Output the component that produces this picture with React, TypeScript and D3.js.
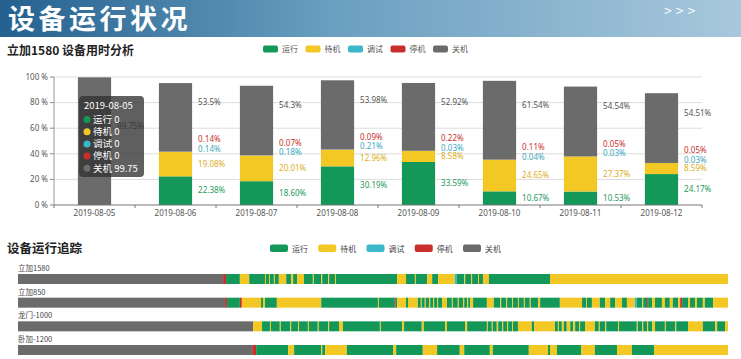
import React from 'react';
import * as d3 from 'd3';

const FONT = "'Noto Sans CJK SC', 'Noto Sans', sans-serif";
const NUM_FONT = "'Noto Sans', 'Noto Sans CJK SC', sans-serif";

const stateNames = ['运行', '待机', '调试', '停机', '关机'];
const stateColors = ['#13985a', '#f4c824', '#3db8cb', '#c92f2c', '#6b6b6b'];
const labelColors = ['#1c9a5c', '#dcae1a', '#3aa8bd', '#c9302c', '#555555'];

const dates = ['2019-08-05', '2019-08-06', '2019-08-07', '2019-08-08', '2019-08-09', '2019-08-10', '2019-08-11', '2019-08-12'];
const runVals = ['0', '22.38', '18.60', '30.19', '33.59', '10.67', '10.53', '24.17'];
const idleVals = ['0', '19.08', '20.01', '12.96', '8.58', '24.65', '27.37', '8.59'];
const debugVals = ['0', '0.14', '0.18', '0.21', '0.03', '0.04', '0.03', '0.03'];
const stopVals = ['0', '0.14', '0.07', '0.09', '0.22', '0.11', '0.05', '0.05'];
const offVals = ['99.75', '53.5', '54.3', '53.98', '52.92', '61.54', '54.54', '54.51'];
const yTicks = [0, 20, 40, 60, 80, 100];

const tooltipTitle = '2019-08-05';
const tooltipVals = ['0', '0', '0', '0', '99.75'];

const machineNames = ['立加1580', '立加850', '龙门-1000', '卧加-1200'];
// [start minute of the day, state index]
const track1: [number, number][] = [
  [0, 4], [416, 3], [422, 0], [450, 1], [469, 0], [501, 1], [503, 0], [509, 1], [511, 0], [519, 1], [521, 0],
  [529, 1], [544, 0], [554, 1], [558, 0], [566, 1], [580, 0], [598, 1], [600, 0], [615, 1], [617, 0], [629, 1],
  [631, 0], [643, 1], [645, 0], [769, 1], [787, 0], [805, 1], [807, 0], [830, 1], [840, 0], [852, 1], [886, 2],
  [890, 0], [905, 1], [907, 0], [919, 1], [921, 0], [933, 1], [935, 0], [943, 1], [955, 0], [1079, 1],
];
const track2: [number, number][] = [
  [0, 4], [420, 3], [424, 0], [450, 3], [454, 1], [493, 0], [497, 1], [501, 0], [525, 1], [615, 0], [730, 1],
  [732, 0], [763, 3], [765, 0], [769, 1], [787, 0], [791, 1], [811, 0], [817, 1], [819, 0], [825, 1], [827, 0],
  [834, 1], [836, 0], [842, 1], [844, 0], [850, 1], [852, 0], [860, 1], [870, 0], [880, 1], [882, 0], [892, 1],
  [894, 0], [903, 1], [905, 0], [911, 1], [913, 0], [917, 1], [923, 0], [951, 1], [965, 0], [978, 1], [980, 0],
  [990, 1], [992, 0], [1002, 1], [1004, 0], [1014, 1], [1016, 0], [1026, 1], [1028, 0], [1038, 1], [1040, 0],
  [1055, 1], [1059, 0], [1099, 1], [1144, 0], [1152, 1], [1154, 0], [1164, 1], [1180, 0], [1191, 1], [1201, 0],
  [1211, 1], [1225, 0], [1235, 1], [1251, 2], [1255, 0], [1266, 1], [1268, 0], [1276, 3], [1278, 0], [1286, 1],
  [1292, 0], [1306, 1], [1312, 0], [1322, 1], [1328, 0], [1339, 1], [1343, 3], [1347, 0], [1359, 1], [1363, 0],
  [1373, 1], [1377, 0], [1389, 1], [1393, 0], [1410, 1],
];
const track3: [number, number][] = [
  [0, 4], [477, 1], [495, 0], [511, 1], [513, 0], [531, 1], [533, 0], [552, 1], [554, 0], [568, 1], [570, 0],
  [588, 1], [590, 0], [608, 1], [610, 0], [629, 1], [631, 0], [651, 1], [659, 0], [734, 1], [736, 0], [779, 1],
  [783, 0], [819, 1], [823, 0], [866, 1], [870, 0], [907, 1], [911, 0], [951, 1], [953, 0], [961, 1], [963, 0],
  [971, 1], [974, 0], [982, 1], [984, 0], [992, 1], [994, 0], [1002, 1], [1004, 0], [1014, 1], [1042, 0],
  [1047, 1], [1089, 0], [1095, 1], [1097, 0], [1103, 1], [1107, 0], [1113, 1], [1120, 0], [1126, 1], [1130, 0],
  [1138, 1], [1140, 0], [1150, 1], [1170, 0], [1178, 1], [1180, 0], [1191, 1], [1193, 0], [1217, 1], [1219, 0],
  [1255, 1], [1257, 0], [1266, 1], [1268, 0], [1276, 1], [1278, 0], [1286, 1], [1292, 0], [1312, 1], [1314, 0],
  [1333, 1], [1335, 0], [1359, 1], [1389, 0], [1414, 1], [1418, 0], [1434, 1],
];
const track4: [number, number][] = [
  [0, 4], [475, 3], [483, 0], [548, 1], [560, 0], [615, 1], [617, 0], [623, 1], [667, 0], [761, 1], [767, 0],
  [821, 1], [850, 0], [896, 1], [905, 0], [957, 1], [963, 0], [1036, 1], [1075, 0], [1079, 1], [1093, 0],
  [1142, 1], [1170, 0], [1215, 1], [1245, 0], [1290, 1],
];
const tracks = [track1, track2, track3, track4];
const DAY_MINUTES = 1440;

export default function App() {
  const W = 741, H = 359;

  // ---------- stacked bar chart ----------
  const x = d3.scaleBand<string>().domain(dates).range([54, 702]).padding(0);
  const y = d3.scaleLinear().domain([0, 100]).range([205, 77]);
  const barW = x.bandwidth() * 0.41;

  const rows = dates.map((d, i) => ({
    date: d,
    run: +runVals[i], idle: +idleVals[i], debug: +debugVals[i], stop: +stopVals[i], off: +offVals[i],
  }));
  const keys = ['run', 'idle', 'debug', 'stop', 'off'];
  const labelStrs = [runVals, idleVals, debugVals, stopVals, offVals];
  const stacked = d3.stack<any>().keys(keys)(rows);

  // ---------- timeline ----------
  const tx = d3.scaleLinear().domain([0, DAY_MINUTES]).range([18, 728]);
  const rowY = d3.scaleLinear().domain([0, 3]).range([274, 345]);
  const rowH = 10;

  const topLegendX = d3.scaleLinear().domain([0, 4]).range([263, 433]);
  const botLegendX = d3.scaleLinear().domain([0, 4]).range([270, 463]);

  return (
    <svg width={W} height={H} style={{ position: 'absolute', left: 0, top: 0, fontFamily: FONT }}>
      <defs>
        <linearGradient id="hdr" x1="0" x2="1" y1="0" y2="0">
          <stop offset="0" stopColor="#24618f" />
          <stop offset="0.45" stopColor="#6a9fc0" />
          <stop offset="1" stopColor="#a8c8dc" />
        </linearGradient>
      </defs>
      <rect x={0} y={0} width={W} height={H} fill="#ffffff" />
      {/* header */}
      <rect x={0} y={0} width={W} height={37} fill="url(#hdr)" />
      <text x={8} y={29} fill="#ffffff" fontSize={27} fontWeight="bold" letterSpacing={3.5}>设备运行状况</text>
      <text x={664} y={16} fill="#ffffff" fontSize={14} letterSpacing={4}>{'>>>'}</text>

      {/* section 1 title & legend */}
      <text x={7} y={55} fill="#222" fontSize={12} fontWeight="bold">立加1580  设备用时分析</text>
      {stateNames.map((n, i) => (
        <g key={n}>
          <rect x={topLegendX(i)} y={45.5} width={15} height={7} rx={2} fill={stateColors[i]} />
          <text x={topLegendX(i) + 19} y={52} fontSize={8} fill="#555">{n}</text>
        </g>
      ))}

      {/* grid & y axis */}
      {yTicks.map(t => (
        <g key={t}>
          {t > 0 && <line x1={54} x2={702} y1={y(t)} y2={y(t)} stroke="#dddddd" strokeWidth={1} />}
          <line x1={50} x2={54} y1={y(t)} y2={y(t)} stroke="#888" />
          <text x={48} y={y(t)} dy="0.35em" textAnchor="end" fontSize={8} fill="#555" fontFamily={NUM_FONT}>{t} %</text>
        </g>
      ))}
      <line x1={54} x2={54} y1={y(100)} y2={y(0)} stroke="#999" />

      {/* bars */}
      {stacked.map((s, si) => s.map((seg, di) => {
        const h = y(seg[0]) - y(seg[1]);
        if (h <= 0) return null;
        return (
          <rect key={`${si}-${di}`} x={(x(dates[di]) as number) + (x.bandwidth() - barW) / 2} y={y(seg[1])}
            width={barW} height={h} fill={stateColors[si]} />
        );
      }))}

      {/* x axis */}
      <line x1={54} x2={702} y1={y(0)} y2={y(0)} stroke="#777" />
      {dates.map((d, i) => (
        <g key={d}>
          <line x1={(x(d) as number)} x2={(x(d) as number)} y1={y(0)} y2={y(0) + 3} stroke="#777" />
          <text x={(x(d) as number) + x.bandwidth() / 2} y={216} textAnchor="middle" fontSize={8} fill="#555" fontFamily={NUM_FONT}>{d}</text>
        </g>
      ))}
      <line x1={702} x2={702} y1={y(0)} y2={y(0) + 3} stroke="#777" />

      {/* bar labels */}
      {stacked.map((s, si) => s.map((seg, di) => {
        const v = +labelStrs[si][di];
        if (v <= 0) return null;
        let cy: number;
        if (si === 0 || si === 1) cy = y((seg[0] + seg[1]) / 2);
        else if (si === 2) cy = y(seg[1]) - 3;
        else if (si === 3) cy = y(seg[1]) - 12.5;
        else cy = y((seg[0] + seg[1]) / 2) - 15;
        const lx = (x(dates[di]) as number) + (x.bandwidth() + barW) / 2 + 6;
        return (
          <text key={`l${si}-${di}`} x={lx} y={cy} dy="0.35em" fontSize={8} fill={labelColors[si]} fontFamily={NUM_FONT}>
            {labelStrs[si][di]}%
          </text>
        );
      }))}

      {/* tooltip */}
      <g>
        <rect x={79} y={96} width={65} height={81} rx={4} fill="rgba(50,50,50,0.78)" />
        <text x={84} y={106} dy="0.35em" fontSize={9.5} fill="#fff">{tooltipTitle}</text>
        {stateNames.map((n, i) => (
          <g key={n}>
            <circle cx={87} cy={119.5 + i * 12.2} r={3.5} fill={stateColors[i]} />
            <text x={93} y={119.5 + i * 12.2} dy="0.35em" fontSize={9.5} fill="#fff">{n} {tooltipVals[i]}</text>
          </g>
        ))}
      </g>

      {/* section 2 */}
      <text x={7} y={253} fill="#222" fontSize={12.5} fontWeight="bold">设备运行追踪</text>
      {stateNames.map((n, i) => (
        <g key={'b' + n}>
          <rect x={botLegendX(i)} y={244.5} width={18} height={7.5} rx={2} fill={stateColors[i]} />
          <text x={botLegendX(i) + 22} y={251.5} fontSize={8} fill="#444">{n}</text>
        </g>
      ))}
      {tracks.map((tr, ri) => (
        <g key={'t' + ri}>
          <text x={18} y={rowY(ri) - 3} fontSize={7.5} fill="#444">{machineNames[ri]}</text>
          {tr.map(([start, st], k) => {
            const end = k + 1 < tr.length ? tr[k + 1][0] : DAY_MINUTES;
            return (
              <rect key={k} x={tx(start)} y={rowY(ri)} width={Math.max(0, tx(end) - tx(start))}
                height={rowH} fill={stateColors[st]} />
            );
          })}
        </g>
      ))}
    </svg>
  );
}
